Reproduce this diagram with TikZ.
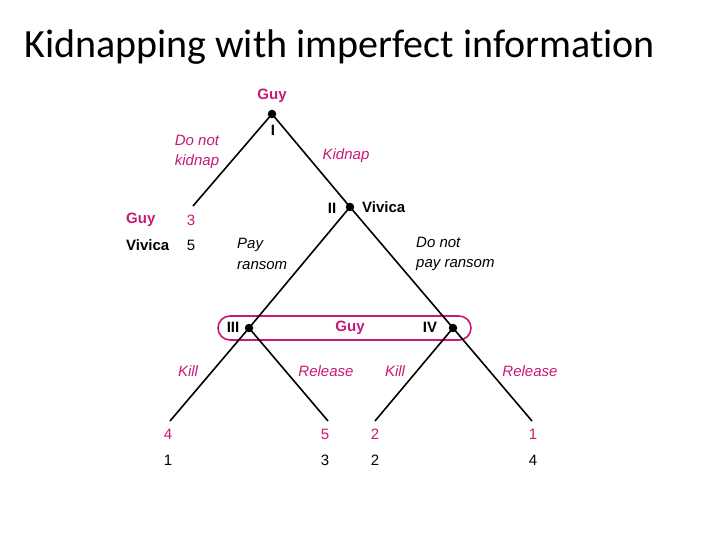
\documentclass[tikz,border=0pt]{standalone}
\usepackage{fontspec}
\setmainfont{Liberation Sans}
\newfontfamily\titlefont[Ligatures=NoCommon]{Carlito}
\definecolor{mag}{RGB}{200,24,120}
\begin{document}
\begin{tikzpicture}[x=1pt,y=-1pt,
  dot/.style={circle,fill=black,inner sep=0pt,minimum size=8.5pt},
  edge/.style={line width=1.6pt,black},
  lab/.style={font=\fontsize{15}{20}\selectfont,inner sep=0pt},
  blab/.style={lab,font=\fontsize{15}{20}\selectfont\bfseries},
  ilab/.style={lab,font=\fontsize{15}{20.5}\selectfont\itshape,align=left},
  infoset/.style={draw=mag,line width=1.6pt,rounded corners=12pt}]
\useasboundingbox (0,0) rectangle (720,540);
\node[anchor=west,inner sep=0pt,font=\titlefont\fontsize{40}{48}\selectfont] (title) at (24,47) {Kidnapping with imperfect information};

% decision nodes
\node[dot] (n1) at (272,114) {};
\node[dot] (n2) at (350,207) {};
\node[dot] (n3) at (249,328) {};
\node[dot] (n4) at (453,328) {};
% terminal points
\coordinate (t0) at (193,206);
\coordinate (t1) at (170,421);
\coordinate (t2) at (328,421);
\coordinate (t3) at (375,421);
\coordinate (t4) at (532,421);

% information set
\draw[infoset] (218,316) rectangle (471,340);
\node[blab,text=mag] (guy3) at (350,328) {Guy};

% edges
\draw[edge] (n1.center) -- (t0);
\draw[edge] (n1.center) -- (n2.center);
\draw[edge] (n2.center) -- (n3.center);
\draw[edge] (n2.center) -- (n4.center);
\draw[edge] (n3.center) -- (t1);
\draw[edge] (n3.center) -- (t2);
\draw[edge] (n4.center) -- (t3);
\draw[edge] (n4.center) -- (t4);

% node labels
\node[blab,text=mag] (guy1) at (272,96) {Guy};
\node[blab] (r1) at (273,130) {I};
\node[blab] (r2) at (332,208) {II};
\node[blab,anchor=west] (viv2) at (362,207) {Vivica};
\node[blab] (r3) at (233,327) {III};
\node[blab] (r4) at (430,327) {IV};

% branch labels
\node[ilab,text=mag] (dnk) at (197,152) {Do not\\kidnap};
\node[ilab,text=mag] (kid) at (346,156) {Kidnap};
\node[ilab,anchor=west] (pay) at (237,254) {Pay\\ransom};
\node[ilab,anchor=west] (npay) at (416,254) {Do not\\pay ransom};
\node[ilab,text=mag] (k1) at (188,371) {Kill};
\node[ilab,text=mag] (rl1) at (326,371) {Release};
\node[ilab,text=mag] (k2) at (395,371) {Kill};
\node[ilab,text=mag] (rl2) at (530,371) {Release};

% payoffs
\node[blab,text=mag,anchor=west] (pg) at (126,220) {Guy};
\node[blab,anchor=west] (pv) at (126,245) {Vivica};
\node[lab,text=mag] (p0g) at (191,220) {3};
\node[lab] (p0v) at (191,245) {5};
\node[lab,text=mag] (p1g) at (168,434) {4};
\node[lab] (p1v) at (168,460) {1};
\node[lab,text=mag] (p2g) at (325,434) {5};
\node[lab] (p2v) at (325,460) {3};
\node[lab,text=mag] (p3g) at (375,434) {2};
\node[lab] (p3v) at (375,460) {2};
\node[lab,text=mag] (p4g) at (533,434) {1};
\node[lab] (p4v) at (533,460) {4};
\end{tikzpicture}
\end{document}
